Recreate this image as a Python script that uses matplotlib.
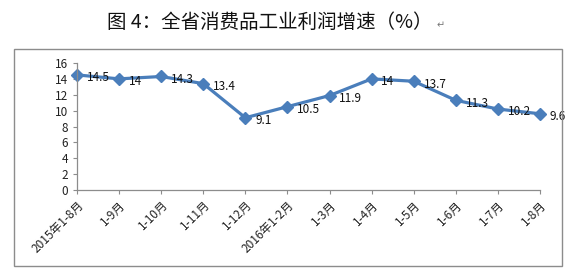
import matplotlib
matplotlib.use("Agg")
import matplotlib.pyplot as plt
from matplotlib.patches import Rectangle

plt.rcParams["font.family"] = ["Noto Sans CJK SC", "DejaVu Sans"]

categories = ["2015年1-8月", "1-9月", "1-10月", "1-11月", "1-12月", "2016年1-2月",
              "1-3月", "1-4月", "1-5月", "1-6月", "1-7月", "1-8月"]
values = [14.5, 14, 14.3, 13.4, 9.1, 10.5, 11.9, 14, 13.7, 11.3, 10.2, 9.6]
yticks = [0, 2, 4, 6, 8, 10, 12, 14, 16]

W, H = 576, 275
fig = plt.figure(figsize=(W / 100, H / 100), dpi=100)

# chart frame
fig.patches.append(Rectangle((14 / W, 1 - 266 / H), (562 - 14) / W, (266 - 49) / H,
                             transform=fig.transFigure, fill=False,
                             edgecolor="#8c8c8c", linewidth=1.0))

fig.text(270 / W, 1 - 22 / H, "图 4：全省消费品工业利润增速（%）", ha="center",
         va="center", fontsize=14, color="#111111")
fig.text(437 / W, 1 - 25 / H, "↵", ha="left", va="center", fontsize=7,
         color="#777777", family=["DejaVu Sans"])

ax = fig.add_axes([77 / W, 1 - 190 / H, (540 - 77) / W, (190 - 63) / H])
x = list(range(len(values)))
ax.plot(x, values, color="#4A7EBB", linewidth=2.3, marker="D", markersize=6.5,
        markerfacecolor="#4A7EBB", markeredgecolor="#4A7EBB", clip_on=False)
for xi, v in zip(x, values):
    ax.annotate(f"{v:g}", (xi, v), xytext=(7, -2), textcoords="offset points",
                ha="left", va="center", fontsize=8.5, color="#111111")

ax.set_xlim(0, len(values) - 1)
ax.set_ylim(0, 16)
ax.set_yticks(yticks)
ax.set_xticks(x)
ax.set_xticklabels(categories, rotation=45, ha="right", rotation_mode="anchor",
                   fontsize=8.5, color="#222222")
ax.tick_params(axis="y", labelsize=8.5, length=3, color="#8c8c8c", labelcolor="#222222")
ax.tick_params(axis="x", length=3, color="#8c8c8c", pad=3)
for s in ("top", "right"):
    ax.spines[s].set_visible(False)
for s in ("left", "bottom"):
    ax.spines[s].set_color("#8c8c8c")
    ax.spines[s].set_linewidth(0.9)

fig.savefig("out.png", dpi=100)
